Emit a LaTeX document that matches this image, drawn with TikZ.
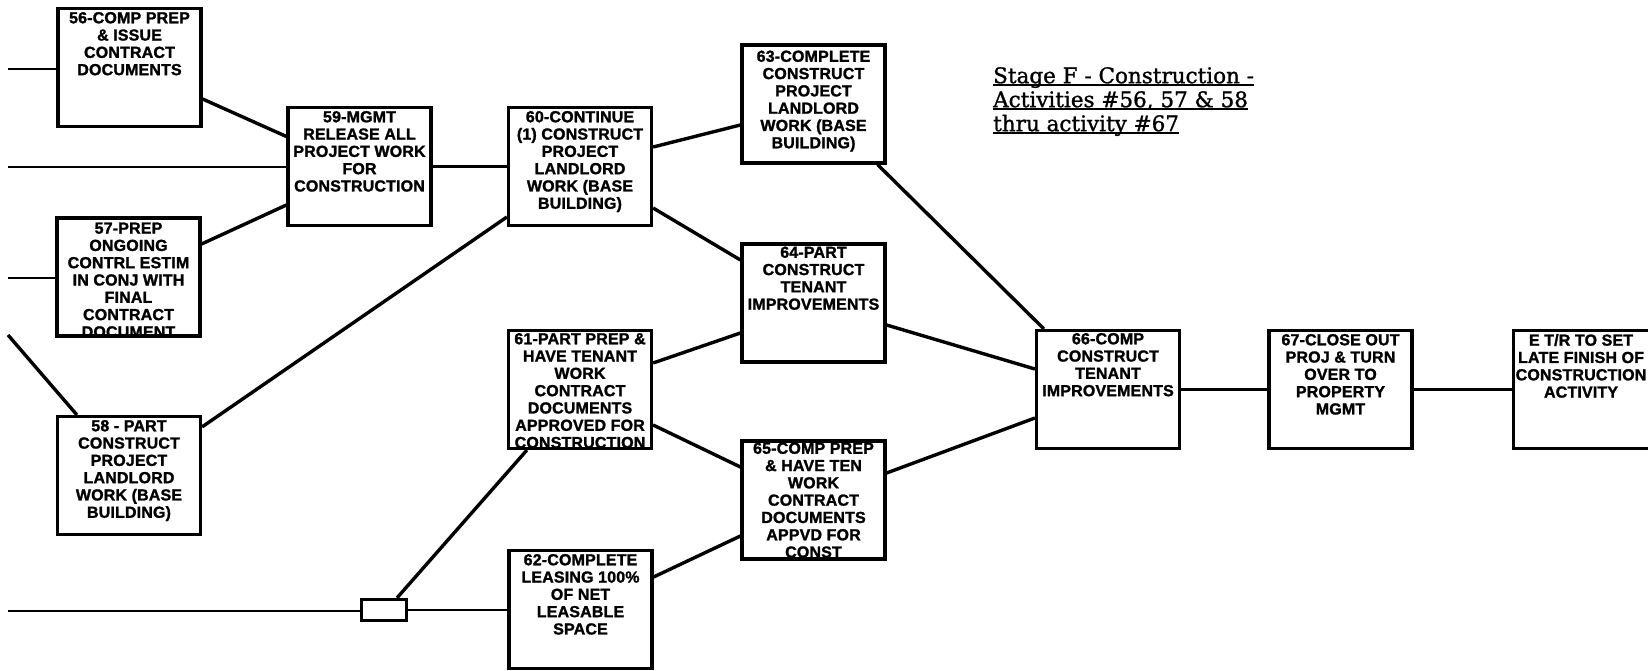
\documentclass[tikz,border=0pt]{standalone}
\usepackage{fontspec}
\setmainfont{Liberation Sans}
\newfontfamily\boxfont{Liberation Sans}[BoldFeatures={FakeBold=1.5}, LetterSpace=1]
\newfontfamily\titlefont{DejaVu Serif}[FakeBold=1.2]
\usetikzlibrary{calc}
\newcommand\ulx[1]{\setbox0=\hbox{#1}\rlap{\rule[-2.5pt]{\wd0}{1.4pt}}\box0}
\begin{document}
\begin{tikzpicture}[x=1pt,y=-1pt,
  actbox/.style={draw, line width=3.2pt, minimum width=143pt, minimum height=118pt, inner sep=0pt},
  acttext/.style={anchor=north, align=center, inner sep=0pt, font=\boxfont\bfseries\fontsize{16}{17.3}\selectfont},
  link/.style={line width=3.4pt},
  hlink/.style={line width=2.2pt}]
\useasboundingbox (0,0) rectangle (1648,671);
\fill[white] (0,0) rectangle (1648,671);
\clip (0,0) rectangle (1648,671);

% boxes
\node[actbox] (b56) at (129.5,67.5) {};
\node[actbox] (b59) at (359.5,166.5) {};
\node[actbox] (b57) at (128.5,277) {};
\node[actbox] (b58) at (129,475.5) {};
\node[actbox] (b60) at (580,166.5) {};
\node[actbox] (b61) at (580,389.5) {};
\node[actbox] (b62) at (580.5,609.5) {};
\node[actbox] (b63) at (813.5,104) {};
\node[actbox] (b64) at (813.5,303) {};
\node[actbox] (b65) at (813.5,500) {};
\node[actbox] (b66) at (1108,389.5) {};
\node[actbox] (b67) at (1340.5,389.5) {};
\node[actbox] (bE) at (1585,389.5) {};
\node[draw, line width=3.2pt, minimum width=45pt, minimum height=21pt, inner sep=0pt] (sr) at (384,610) {};

% texts
\node[acttext] (t56) at ($(b56.north)+(0,5)$) {56-COMP PREP\\\& ISSUE\\CONTRACT\\DOCUMENTS};
\node[acttext] (t59) at ($(b59.north)+(0,5)$) {59-MGMT\\RELEASE ALL\\PROJECT WORK\\FOR\\CONSTRUCTION};
\node[acttext] (t57) at ($(b57.north)+(0,6)$) {57-PREP\\ONGOING\\CONTRL ESTIM\\IN CONJ WITH\\FINAL\\CONTRACT\\DOCUMENT};
\node[acttext] (t58) at ($(b58.north)+(0,5)$) {58 - PART\\CONSTRUCT\\PROJECT\\LANDLORD\\WORK (BASE\\BUILDING)};
\node[acttext] (t60) at ($(b60.north)+(0,5)$) {60-CONTINUE\\(1) CONSTRUCT\\PROJECT\\LANDLORD\\WORK (BASE\\BUILDING)};
\node[acttext] (t61) at ($(b61.north)+(0,4)$) {61-PART PREP \&\\HAVE TENANT\\WORK\\CONTRACT\\DOCUMENTS\\APPROVED FOR\\CONSTRUCTION};
\node[acttext] (t62) at ($(b62.north)+(0,5)$) {62-COMPLETE\\LEASING 100\%\\OF NET\\LEASABLE\\SPACE};
\node[acttext] (t63) at ($(b63.north)+(0,7)$) {63-COMPLETE\\CONSTRUCT\\PROJECT\\LANDLORD\\WORK (BASE\\BUILDING)};
\node[acttext] (t64) at ($(b64.north)+(0,4)$) {64-PART\\CONSTRUCT\\TENANT\\IMPROVEMENTS};
\node[acttext] (t65) at ($(b65.north)+(0,3)$) {65-COMP PREP\\\& HAVE TEN\\WORK\\CONTRACT\\DOCUMENTS\\APPVD FOR\\CONST};
\node[acttext] (t66) at ($(b66.north)+(0,4)$) {66-COMP\\CONSTRUCT\\TENANT\\IMPROVEMENTS};
\node[acttext] (t67) at ($(b67.north)+(0,5)$) {67-CLOSE OUT\\PROJ \& TURN\\OVER TO\\PROPERTY\\MGMT};
\node[acttext] (tE) at ($(bE.north)+(-4,5)$) {E T/R TO SET\\LATE FINISH OF\\CONSTRUCTION\\ACTIVITY};

% title
\node[anchor=north west, align=left, inner sep=0pt, font=\titlefont\fontsize{21.5}{24}\selectfont] (title) at (993,67)
  {\ulx{Stage F - Construction -}\\\ulx{Activities \#56, 57 \& 58}\\\ulx{thru activity \#67}};

% free ends
\coordinate (in1) at (8,69);
\coordinate (in2) at (8,167);
\coordinate (in3) at (8,278);
\coordinate (in4) at (8,335);
\coordinate (in5) at (8,611);

% connectors
\draw[hlink] (in1) -- (in1 -| b56.west);
\draw[hlink] (in2) -- (in2 -| b59.west);
\draw[hlink] (in3) -- (in3 -| b57.west);
\draw[link] (in4) -- ($(b58.north west)+(21,0)$);
\draw[hlink] (in5) -- (in5 -| sr.west);
\draw[hlink] (sr.east) -- (sr.east -| b62.west);
\draw[link] ($(sr.north)+(13,0)$) -- ($(b61.south west)+(20,0)$);
\draw[link] ($(b56.east)+(0,31.5)$) -- ($(b59.west)+(0,-30)$);
\draw[link] ($(b57.east)+(0,-33)$) -- ($(b59.west)+(0,38.5)$);
\draw[hlink] (b59.east) -- (b60.west);
\draw[link] ($(b58.north east)+(0,12)$) -- ($(b60.west)+(0,50.5)$);
\draw[link] ($(b60.east)+(0,-19.5)$) -- ($(b63.west)+(0,21)$);
\draw[link] ($(b60.east)+(0,41.5)$) -- ($(b64.west)+(0,-43)$);
\draw[link] ($(b61.east)+(0,-26.5)$) -- ($(b64.west)+(0,30)$);
\draw[link] ($(b61.east)+(0,35.5)$) -- ($(b65.west)+(0,-33)$);
\draw[link] ($(b62.east)+(0,-32.5)$) -- ($(b65.west)+(0,36)$);
\draw[link] ($(b63.south east)+(-9,0)$) -- ($(b66.north west)+(9,0)$);
\draw[link] ($(b64.east)+(0,22)$) -- ($(b66.west)+(0,-20.5)$);
\draw[link] ($(b65.east)+(0,-27)$) -- ($(b66.west)+(0,28.5)$);
\draw[hlink] (b66.east) -- (b67.west);
\draw[hlink] (b67.east) -- (bE.west);
\end{tikzpicture}
\end{document}
